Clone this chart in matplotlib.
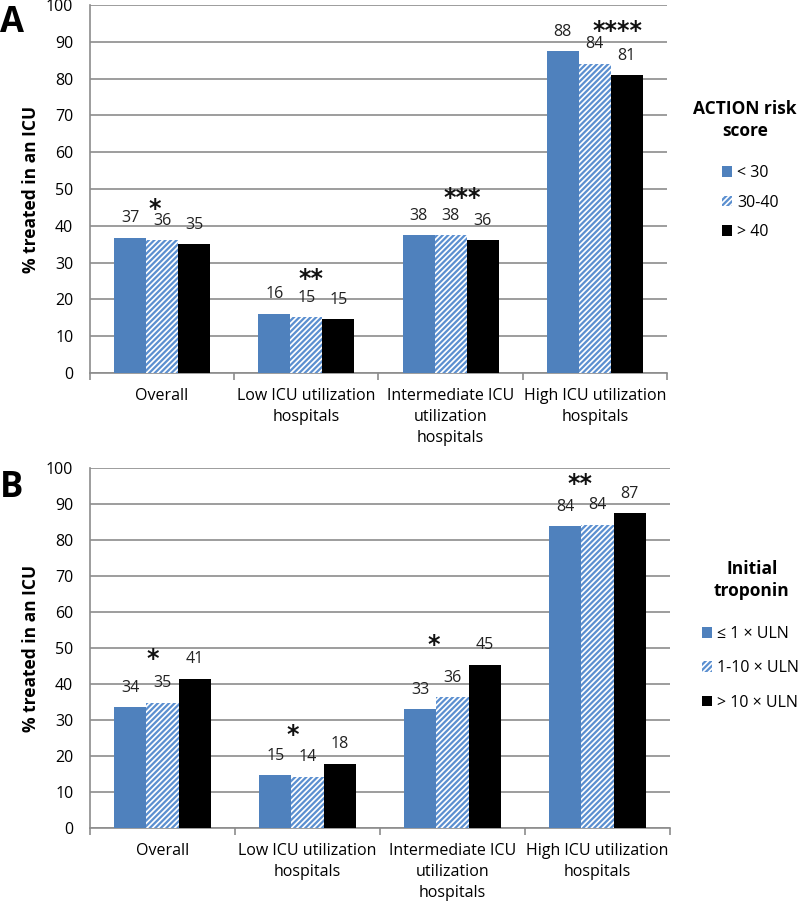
# Gráfico de barras agrupadas: % tratados en UCI (paneles A y B)
import numpy as np
from matplotlib import pyplot as plt
from matplotlib.patches import Patch

plt.rcParams['font.family'] = ['Open Sans', 'DejaVu Sans']
plt.rcParams['hatch.linewidth'] = 1.6

# Datos
categorias = ["Overall", "Low ICU utilization\nhospitals",
              "Intermediate ICU\nutilization\nhospitals",
              "High ICU utilization\nhospitals"]

# Panel A - ACTION risk score
seriesA = ["< 30", "30-40", "> 40"]
riesgoBajo = [36.7, 16.1, 37.5, 87.5]
riesgoMedio = [36.0, 15.2, 37.5, 84.0]
riesgoAlto = [35.0, 14.6, 36.0, 80.9]
etiquetasA = [[37, 16, 38, 88], [36, 15, 38, 84], [35, 15, 36, 81]]
estrellasA = ["*", "**", "***", "****"]

# Panel B - Initial troponin
seriesB = ["≤ 1 × ULN", "1-10 × ULN", "> 10 × ULN"]
tropBajo = [33.5, 14.7, 33.0, 83.9]
tropMedio = [34.8, 14.2, 36.3, 84.3]
tropAlto = [41.5, 17.9, 45.4, 87.4]
etiquetasB = [[34, 15, 33, 84], [35, 14, 36, 84], [41, 18, 45, 87]]
estrellasB = ["*", "*", "*", "**"]

# Posición de los asteriscos (desplazamiento x en categorías, altura y)
posEstrellasA = [(-0.05, 44.5), (0.03, 25.5), (0.08, 47.5), (0.16, 93)]
posEstrellasB = [(-0.065, 47), (-0.10, 25.9), (-0.13, 50.9), (-0.12, 95.5)]

azul = '#4F81BD'
gris = '#8C8C8C'
ancho = 0.222
letra = 11.5


def estilo_barras(i):
    # devuelve el estilo de cada serie
    if i == 0:
        return dict(color=azul, linewidth=0)
    if i == 1:
        return dict(facecolor='white', edgecolor='#5B8FD0', hatch='//////', linewidth=0)
    return dict(color='black', linewidth=0)


def graficar(ax, valores, etiquetas, estrellas, posEstrellas):
    x = np.arange(len(categorias))
    for i, serie in enumerate(valores):
        pos = x + (i - 1) * ancho
        ax.bar(pos, serie, width=ancho, zorder=3, **estilo_barras(i))
        for xp, v, t in zip(pos, serie, etiquetas[i]):
            ax.annotate(str(t), (xp, v), xytext=(0, 14), textcoords='offset points',
                        ha='center', va='center', fontsize=letra, color='#222222')
    for k, s in enumerate(estrellas):
        dx, yy = posEstrellas[k]
        ax.text(x[k] + dx, yy, s, ha='center', va='center', fontsize=17,
                fontweight='bold', color='#111111', family='DejaVu Sans')

    ax.set_xlim(-0.5, len(categorias) - 0.5)
    ax.set_ylim(0, 100)
    ax.set_yticks(range(0, 101, 10))
    ax.yaxis.grid(True, color=gris, linewidth=1.2, zorder=0)
    ax.set_axisbelow(True)
    ax.set_xticks(x)
    ax.set_xticklabels(categorias, fontsize=letra, linespacing=1.4)
    ax.set_xticks(np.arange(-0.5, len(categorias)), minor=True)
    ax.tick_params(axis='x', which='major', length=0, pad=11)
    ax.tick_params(axis='x', which='minor', length=5, color=gris, width=1.2)
    ax.tick_params(axis='y', length=0, labelsize=letra, pad=12)
    for lado in ['top', 'right']:
        ax.spines[lado].set_visible(False)
    for lado in ['left', 'bottom']:
        ax.spines[lado].set_color(gris)
        ax.spines[lado].set_linewidth(1.2)
    ax.set_ylabel('% treated in an ICU', fontsize=12.5, fontweight='bold', labelpad=4)


fig = plt.figure(figsize=(8, 9.07), dpi=100)
axA = fig.add_axes([0.1125, 0.5888, 0.7212, 0.4057])
axB = fig.add_axes([0.1125, 0.0871, 0.725, 0.3969])

graficar(axA, [riesgoBajo, riesgoMedio, riesgoAlto], etiquetasA, estrellasA, posEstrellasA)
graficar(axB, [tropBajo, tropMedio, tropAlto], etiquetasB, estrellasB, posEstrellasB)

# Letras de los paneles
fig.text(0.0, 1 - 23 / 907, 'A', fontsize=25, fontweight='bold', va='center', ha='left')
fig.text(0.0, 1 - 488 / 907, 'B', fontsize=25, fontweight='bold', va='center', ha='left')

# Leyendas
fig.text(745 / 800, 1 - 120 / 907, 'ACTION risk\nscore', ha='center', va='center',
         fontsize=12.5, fontweight='bold', linespacing=1.3)
manejadoresA = [Patch(**estilo_barras(i), label=s) for i, s in enumerate(seriesA)]
fig.legend(handles=manejadoresA, loc='upper left', bbox_to_anchor=(722 / 800, 1 - 165 / 907),
           frameon=False, fontsize=letra, handlelength=0.65, handleheight=0.65,
           handletextpad=0.3, labelspacing=0.85, borderaxespad=0, borderpad=0)

fig.text(752 / 800, 1 - 580 / 907, 'Initial\ntroponin', ha='center', va='center',
         fontsize=12.5, fontweight='bold', linespacing=1.3)
manejadoresB = [Patch(**estilo_barras(i), label=s) for i, s in enumerate(seriesB)]
fig.legend(handles=manejadoresB, loc='upper left', bbox_to_anchor=(702 / 800, 1 - 626 / 907),
           frameon=False, fontsize=letra, handlelength=0.65, handleheight=0.65,
           handletextpad=0.3, labelspacing=1.15, borderaxespad=0, borderpad=0)

fig.savefig('out.png', dpi=100)
